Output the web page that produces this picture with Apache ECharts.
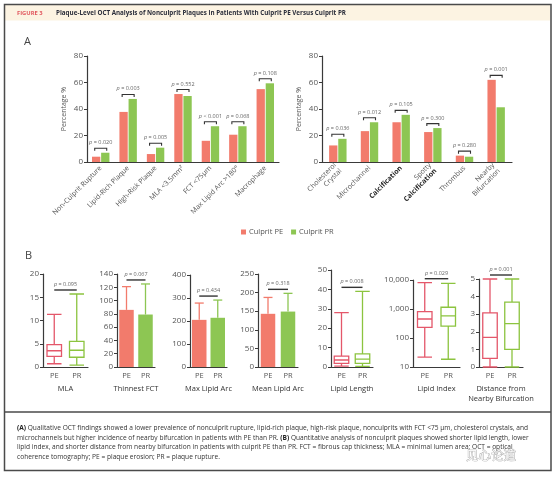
<!DOCTYPE html>
<html><head><meta charset="utf-8">
<script src="https://cdn.jsdelivr.net/npm/echarts@6/dist/echarts.min.js"></script>
<style>html,body{margin:0;padding:0;background:#fff}#c{width:556px;height:481px}</style>
</head><body><div id="c"></div>
<script>
// ---------- DATA ----------
const seriesNames = ['Culprit PE', 'Culprit PR'];
const catsA1 = ['Non-Culprit Rupture', 'Lipid-Rich Plaque', 'High-Risk Plaque', 'MLA <3.5mm²', 'FCT <75μm', 'Max Lipid Arc >180°', 'Macrophage'];
const peA1 = [4, 37.8, 6, 51.3, 16, 20.6, 55];
const prA1 = [7, 47.6, 10.8, 49.8, 27, 27, 59.4];
const pA1 = ['= 0.020', '= 0.003', '= 0.005', '= 0.552', '< 0.001', '= 0.068', '= 0.108'];
const catsA2 = ['Cholesterol\nCrystal', 'Microchannel', 'Calcification', 'Spotty\nCalcification', 'Thrombus', 'Nearby\nBifurcation'];
const peA2 = [12.5, 23.3, 30, 22.6, 4.8, 62];
const prA2 = [17.5, 30, 35.6, 25.6, 4, 41.3];
const pA2 = ['= 0.036', '= 0.012', '= 0.105', '= 0.300', '= 0.280', '= 0.001'];
const yTicksA = [0, 80, 20];

const groupsB = ['PE', 'PR'];
// box plots: [min, Q1, median, Q3, max]
const mlaPE = [0.7, 2.3, 3.5, 4.8, 11.3];
const mlaPR = [0.4, 2.1, 3.6, 5.5, 15.7];
const lipidLenPE = [0.4, 1.9, 3.6, 5.6, 28];
const lipidLenPR = [0.3, 1.9, 4.1, 6.8, 39];
const lipidIdxPE = [22, 234, 452, 807, 8070];
const lipidIdxPR = [18.5, 258, 575, 1150, 7700];
const distPE = [0, 0.49, 1.68, 3.08, 5];
const distPR = [0, 1.0, 2.47, 3.69, 5];
// bar + SD: means and SD
const fctMean = [86, 79];
const fctSD = [35, 46];
const maxArcMean = [205, 214];
const maxArcSD = [73, 77];
const meanArcMean = [143, 149];
const meanArcSD = [44, 49];
const pB = ['= 0.095', '= 0.067', '= 0.434', '= 0.318', '= 0.008', '= 0.029', '= 0.001'];
const titlesB = ['MLA', 'Thinnest FCT', 'Max Lipid Arc', 'Mean Lipid Arc', 'Lipid Length', 'Lipid Index', 'Distance from\nNearby Bifurcation'];

// ---------- STYLE ----------
const FONT = 'Open Sans';
const PE_BAR = '#f27b6c', PR_BAR = '#8dc653';
const PE_BOX = '#e4576a', PR_BOX = '#8cc43f';
const AX = '#3a3a3a', LBL = '#555';

const chart = echarts.init(document.getElementById('c'));

function measure(text, font) {
  const cv = document.createElement('canvas').getContext('2d');
  cv.font = font; return cv.measureText(text).width;
}

const grids = [], xAxes = [], yAxes = [], series = [];

function bracketRender(pvals) {
  return function (params, api) {
    const c = api.coord([api.value(0), api.value(1)]);
    const y = c[1] - 4.5, x0 = c[0] - 6, x1 = c[0] + 6;
    return {
      type: 'group', children: [
        { type: 'polyline', shape: { points: [[x0, y + 2.5], [x0, y], [x1, y], [x1, y + 2.5]] }, style: { stroke: '#333', lineWidth: 1.1, fill: null } },
        { type: 'text', style: { text: '{i|p} ' + pvals[params.dataIndex], x: c[0], y: y - 2.5, align: 'center', verticalAlign: 'bottom', fontSize: 5.5, fontFamily: FONT, fill: '#666', rich: { i: { fontStyle: 'italic', fontSize: 5.5, fontFamily: FONT, fill: '#666' } } } }
      ]
    };
  };
}

function addA(idx, left, width, cats, pe, pr, pv, labelFmt) {
  grids.push({ left: left, top: 56, width: width, height: 106 });
  xAxes.push({
    gridIndex: idx, type: 'category', data: cats,
    axisLine: { lineStyle: { color: AX, width: 1.2 } }, axisTick: { show: false },
    axisLabel: { rotate: 45, fontSize: 7, color: LBL, fontFamily: FONT, margin: 5, interval: 0, lineHeight: 8, formatter: labelFmt,
      rich: { b: { fontSize: 7, color: '#222', fontFamily: FONT, fontWeight: 'bold', lineHeight: 8 } } }
  });
  yAxes.push({
    gridIndex: idx, type: 'value', min: yTicksA[0], max: yTicksA[1], interval: yTicksA[2],
    name: 'Percentage %', nameLocation: 'middle', nameGap: 20, nameRotate: 90,
    nameTextStyle: { fontSize: 7, color: LBL, fontFamily: FONT },
    axisLine: { show: true, lineStyle: { color: AX, width: 1.2 } }, axisTick: { show: true, length: 3, lineStyle: { color: AX } },
    axisLabel: { fontSize: 8, color: LBL, fontFamily: FONT, margin: 4 }, splitLine: { show: false }
  });
  series.push({ type: 'bar', name: seriesNames[0], xAxisIndex: idx, yAxisIndex: idx, data: pe, barWidth: 8.3, barGap: '10%', itemStyle: { color: PE_BAR } });
  series.push({ type: 'bar', name: seriesNames[1], xAxisIndex: idx, yAxisIndex: idx, data: pr, barWidth: 8.3, barGap: '10%', itemStyle: { color: PR_BAR } });
  series.push({ type: 'custom', xAxisIndex: idx, yAxisIndex: idx, renderItem: bracketRender(pv), z: 5, silent: true,
    data: pe.map((v, i) => [i, Math.max(v, pr[i])]) });
}

addA(0, 87, 192, catsA1, peA1, prA1, pA1);
addA(1, 322, 190, catsA2, peA2, prA2, pA2, function (v) {
  if (v === 'Calcification') return '{b|Calcification}';
  if (v === 'Spotty\nCalcification') return 'Spotty\n{b|Calcification}';
  return v;
});

function pLineRender(ptxt) {
  return function (params, api) {
    const v = api.value(1);
    const c0 = api.coord([0, v]), c1 = api.coord([1, v]);
    const y = c0[1] - 4;
    return {
      type: 'group', children: [
        { type: 'line', shape: { x1: c0[0], y1: y, x2: c1[0], y2: y }, style: { stroke: '#333', lineWidth: 1.4 } },
        { type: 'text', style: { text: '{i|p} ' + ptxt, x: (c0[0] + c1[0]) / 2, y: y - 2.5, align: 'center', verticalAlign: 'bottom', fontSize: 5.5, fontFamily: FONT, fill: '#666', rich: { i: { fontStyle: 'italic', fontSize: 5.5, fontFamily: FONT, fill: '#666' } } } }
      ]
    };
  };
}
function errRender(params, api) {
  const x = api.value(0), m = api.value(1), t = api.value(2);
  const p0 = api.coord([x, m]), p1 = api.coord([x, t]);
  const col = params.dataIndex === 0 ? PE_BAR : PR_BAR;
  return {
    type: 'group', children: [
      { type: 'line', shape: { x1: p0[0], y1: p0[1], x2: p1[0], y2: p1[1] }, style: { stroke: col, lineWidth: 1.3 } },
      { type: 'line', shape: { x1: p1[0] - 4.5, y1: p1[1], x2: p1[0] + 4.5, y2: p1[1] }, style: { stroke: col, lineWidth: 1.3 } }
    ]
  };
}

const layoutB = [
  { left: 43, top: 274, width: 45, height: 93 },
  { left: 117, top: 274, width: 38, height: 93 },
  { left: 190, top: 275, width: 37, height: 92 },
  { left: 258, top: 274, width: 40, height: 93 },
  { left: 331, top: 270, width: 42, height: 97 },
  { left: 413, top: 280, width: 47, height: 87 },
  { left: 479, top: 279, width: 44, height: 88 }
];
const yB = [
  { min: 0, max: 20, interval: 5 },
  { min: 0, max: 140, interval: 20 },
  { min: 0, max: 400, interval: 100 },
  { min: 0, max: 250, interval: 50 },
  { min: 0, max: 50, interval: 10 },
  { type: 'log', min: 10, max: 10000, logBase: 10 },
  { min: 0, max: 5, interval: 1 }
];
const contentB = [
  { kind: 'box', pe: mlaPE, pr: mlaPR },
  { kind: 'bar', mean: fctMean, sd: fctSD },
  { kind: 'bar', mean: maxArcMean, sd: maxArcSD },
  { kind: 'bar', mean: meanArcMean, sd: meanArcSD },
  { kind: 'box', pe: lipidLenPE, pr: lipidLenPR },
  { kind: 'box', pe: lipidIdxPE, pr: lipidIdxPR },
  { kind: 'box', pe: distPE, pr: distPR }
];

contentB.forEach(function (cB, k) {
  const idx = k + 2;
  grids.push(layoutB[k]);
  xAxes.push({
    gridIndex: idx, type: 'category', data: groupsB,
    name: titlesB[k], nameLocation: 'middle', nameGap: 17,
    nameTextStyle: { fontSize: 7.5, color: '#333', fontFamily: FONT, lineHeight: 10, verticalAlign: 'top' },
    axisLine: { lineStyle: { color: AX, width: 1.2 } }, axisTick: { show: false },
    axisLabel: { fontSize: 7.5, color: LBL, fontFamily: FONT, margin: 5 }
  });
  const ya = Object.assign({
    gridIndex: idx, type: 'value',
    axisLine: { show: true, lineStyle: { color: AX, width: 1.2 } }, axisTick: { show: true, length: 3, lineStyle: { color: AX } },
    axisLabel: { fontSize: 8, color: LBL, fontFamily: FONT, margin: 4, formatter: function (v) { return Number(v).toLocaleString('en-US'); } },
    splitLine: { show: false }
  }, yB[k]);
  yAxes.push(ya);
  let topVal;
  if (cB.kind === 'box') {
    series.push({
      type: 'boxplot', xAxisIndex: idx, yAxisIndex: idx, boxWidth: [14.5, 14.5],
      data: [{ value: cB.pe, itemStyle: { color: '#fff', borderColor: PE_BOX, borderWidth: 1.3 } },
             { value: cB.pr, itemStyle: { color: '#fff', borderColor: PR_BOX, borderWidth: 1.3 } }]
    });
    topVal = Math.max(cB.pe[4], cB.pr[4]);
  } else {
    series.push({
      type: 'bar', xAxisIndex: idx, yAxisIndex: idx, barWidth: 14.5,
      data: [{ value: cB.mean[0], itemStyle: { color: PE_BAR } }, { value: cB.mean[1], itemStyle: { color: PR_BAR } }]
    });
    series.push({ type: 'custom', xAxisIndex: idx, yAxisIndex: idx, renderItem: errRender, z: 4, silent: true,
      data: cB.mean.map((m, i) => [i, m, m + cB.sd[i]]) });
    topVal = Math.max(cB.mean[0] + cB.sd[0], cB.mean[1] + cB.sd[1]);
  }
  series.push({ type: 'custom', xAxisIndex: idx, yAxisIndex: idx, renderItem: pLineRender(pB[k]), z: 5, silent: true,
    data: [[0, topVal]] });
});

// ---------- CAPTION ----------
const capLines = [
  '{b|(A)} Qualitative OCT findings showed a lower prevalence of nonculprit rupture, lipid-rich plaque, high-risk plaque, nonculprits with FCT <75 μm, cholesterol crystals, and',
  'microchannels but higher incidence of nearby bifurcation in patients with PE than PR. {b|(B)} Quantitative analysis of nonculprit plaques showed shorter lipid length, lower',
  'lipid index, and shorter distance from nearby bifurcation in patients with culprit PE than PR. FCT = fibrous cap thickness; MLA = minimal lumen area; OCT = optical',
  'coherence tomography; PE = plaque erosion; PR = plaque rupture.'
];
const capFont = 6.5;
const capW = measure(capLines[0].replace('{b|(A)}', '(A)'), capFont + 'px "' + FONT + '"');
const capScale = 510 / capW;
const capY = [428, 437.7, 447.4, 457.1];

const titleTxt = 'Plaque-Level OCT Analysis of Nonculprit Plaques in Patients With Culprit PE Versus Culprit PR';
const tW = measure(titleTxt, 'bold 6.5px "' + FONT + '"');
const tScale = 290 / tW;

const graphic = [
  { type: 'rect', shape: { x: 5, y: 5, width: 545, height: 15.5 }, style: { fill: '#fcf3e2' }, z: -1 },
  { type: 'rect', shape: { x: 4.5, y: 4.5, width: 546.5, height: 466 }, style: { fill: null, stroke: '#4a4a4a', lineWidth: 1.5 }, z: 10 },
  { type: 'line', shape: { x1: 4.5, y1: 412, x2: 551, y2: 412 }, style: { stroke: '#4a4a4a', lineWidth: 1.5 }, z: 10 },
  { type: 'text', x: 17, y: 13, style: { text: 'FIGURE 3', fontSize: 5.8, fontWeight: 'bold', fontFamily: FONT, fill: '#e0545c', verticalAlign: 'middle' } },
  { type: 'text', x: 56, y: 13, scaleX: tScale, style: { text: titleTxt, fontSize: 6.5, fontWeight: 'bold', fontFamily: FONT, fill: '#2a2d3a', verticalAlign: 'middle' } },
  { type: 'text', x: 24, y: 42, style: { text: 'A', fontSize: 11, fontFamily: FONT, fill: '#444', verticalAlign: 'middle' } },
  { type: 'text', x: 25, y: 256, style: { text: 'B', fontSize: 11, fontFamily: FONT, fill: '#444', verticalAlign: 'middle' } },
  { type: 'text', x: 466, y: 455, style: { text: '见心论道', fontSize: 12.5, fontFamily: 'Noto Sans CJK SC', fill: 'rgba(255,255,255,0.9)', stroke: '#9a9a9a', lineWidth: 0.7, verticalAlign: 'middle' }, z: 20 }
];
capLines.forEach(function (t, i) {
  graphic.push({ type: 'text', x: 17, y: capY[i], scaleX: capScale, style: {
    text: t, fontSize: capFont, fontFamily: FONT, fill: '#333', verticalAlign: 'middle',
    rich: { b: { fontWeight: 'bold', fontSize: capFont, fontFamily: FONT, fill: '#222' } } } });
});

chart.setOption({
  animation: false,
  textStyle: { fontFamily: FONT },
  legend: { data: seriesNames, left: 236, top: 223, itemWidth: 5, itemHeight: 5, itemGap: 8, icon: 'rect',
    textStyle: { fontSize: 7.5, color: LBL, fontFamily: FONT, padding: [0, 0, 0, -2] } },
  grid: grids, xAxis: xAxes, yAxis: yAxes, series: series, graphic: graphic
});
</script></body></html>
